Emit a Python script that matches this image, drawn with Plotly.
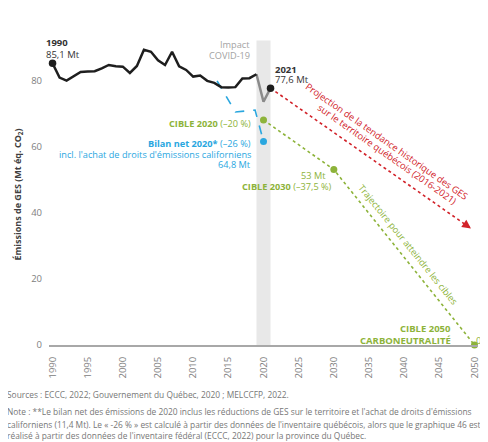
import plotly.graph_objects as go

# historique des émissions (Mt éq. CO2)
years = list(range(1990, 2020))
emissions = [85.1, 80.8, 79.9, 81.2, 82.5, 82.6, 82.7, 83.6, 84.6, 84.2,
             84.1, 82.2, 84.3, 89.2, 88.6, 86.0, 84.6, 88.6, 84.2, 83.1,
             81.1, 81.4, 79.8, 79.2, 77.9, 77.8, 77.9, 80.5, 80.6, 81.8]
covid_years = [2019, 2020, 2021]
covid_emissions = [81.8, 73.5, 77.6]

bilan_years = [2013.4, 2016.0, 2018.8, 2020.0]
bilan_values = [79.8, 70.4, 71.0, 61.5]

cible_years = [2020, 2030, 2050]
cible_values = [68.0, 53.0, 0.0]

proj_years = [2021, 2049.5]
proj_values = [77.6, 35.2]

BLACK = "#1e1e1e"
GREY = "#8a8a8a"
BLUE = "#2aa7df"
GREEN = "#8db33a"
RED = "#d2232a"
FONT = "Open Sans"

fig = go.Figure()

# bande covid
fig.add_shape(type="rect", x0=2019, x1=2021, y0=0, y1=92, xref="x", yref="y",
              fillcolor="#e8e8e8", line_width=0, layer="below")

fig.add_trace(go.Scatter(x=bilan_years, y=bilan_values, mode="lines",
                         line=dict(color=BLUE, width=1.6, dash="dash"), cliponaxis=False))
fig.add_trace(go.Scatter(x=[bilan_years[-1]], y=[bilan_values[-1]], mode="markers",
                         marker=dict(color=BLUE, size=7), cliponaxis=False))

fig.add_trace(go.Scatter(x=cible_years, y=cible_values, mode="lines",
                         line=dict(color=GREEN, width=1.6, dash="dot"), cliponaxis=False))
fig.add_trace(go.Scatter(x=cible_years, y=cible_values, mode="markers",
                         marker=dict(color=GREEN, size=7), cliponaxis=False))

fig.add_trace(go.Scatter(x=proj_years, y=proj_values, mode="lines",
                         line=dict(color=RED, width=1.6, dash="dot"), cliponaxis=False))

fig.add_trace(go.Scatter(x=covid_years, y=covid_emissions, mode="lines",
                         line=dict(color=GREY, width=2.5), cliponaxis=False))
fig.add_trace(go.Scatter(x=years, y=emissions, mode="lines",
                         line=dict(color=BLACK, width=2.5), cliponaxis=False))
fig.add_trace(go.Scatter(x=[years[0], covid_years[-1]], y=[emissions[0], covid_emissions[-1]],
                         mode="markers", marker=dict(color=BLACK, size=7.5), cliponaxis=False))

ann = []


def label(x, y, text, color, size=9.2, xanchor="left", angle=0, xref="x"):
    ann.append(dict(x=x, y=y, xref=xref, yref="y", text=text, showarrow=False,
                    font=dict(family=FONT, size=size, color=color),
                    xanchor=xanchor, yanchor="middle", align=xanchor if xanchor != "center" else "center",
                    textangle=angle))


label(-0.0105, 91.4, "<b>1990</b>", "#333333", size=9.5, xref="paper")
label(-0.0105, 87.9, "85,1 Mt", "#333333", size=9.5, xref="paper")
label(2018.3, 90.9, "Impact", "#a3a3a3", size=9.2, xanchor="right")
label(2018.3, 87.6, "COVID-19", "#a3a3a3", size=9.2, xanchor="right")
label(2021.3, 83.3, "<b>2021</b>", "#333333", size=9.5)
label(2021.3, 80.3, "77,6 Mt", "#333333", size=9.5)
label(2018.45, 67.0, "<b>CIBLE 2020</b> (–20 %)", GREEN, xanchor="right")
label(2018.45, 60.9, "<b>Bilan net 2020*</b> (–26 %)", BLUE, xanchor="right")
label(2018.45, 57.6, "incl. l'achat de droits d'émissions californiens", BLUE, xanchor="right")
label(2018.45, 54.6, "64,8 Mt", BLUE, xanchor="right")
label(2029.2, 51.1, "53 Mt", GREEN, xanchor="right")
label(2030.0, 48.0, "<b>CIBLE 2030</b> (–37,5 %)", GREEN, xanchor="right")
label(2046.9, 5.0, "<b>CIBLE 2050</b>", GREEN, size=9.5, xanchor="right")
label(2046.9, 1.5, "<b>CARBONEUTRALITÉ</b>", GREEN, size=9.5, xanchor="right")
label(2049.9, 1.5, "0 Mt", GREEN, size=9.5)
# textes en biais, décalés au-dessus des lignes pointillées
label(2037.55, 61.5, "Projection de la tendance historique des GES", RED, size=9.4,
      xanchor="center", angle=35)
label(2037.65, 57.7, "sur le territoire québécois (2016-2021)", RED, size=9.4,
      xanchor="center", angle=35)
label(2040.6, 30.5, "Trajectoire pour atteindre les cibles", GREEN, size=9.2,
      xanchor="center", angle=51)

# pointe de flèche rouge
ann.append(dict(x=proj_years[-1], y=proj_values[-1], xref="x", yref="y",
                ax=proj_years[-1] - 1.2, ay=proj_values[-1] + 1.8, axref="x", ayref="y",
                text="", showarrow=True, arrowhead=2, arrowsize=1.1, arrowwidth=1.6,
                arrowcolor=RED))

# titre de l'axe y
ann.append(dict(x=-0.071, y=0.453, xref="paper", yref="paper", showarrow=False,
                text="<b>Émissions de GES (Mt éq. CO<sub>2</sub>)</b>", textangle=-90,
                font=dict(family=FONT, size=9, color="#404040"),
                xanchor="center", yanchor="middle"))

# sources et note
notes = [
    (-0.151, "Sources : ECCC, 2022; Gouvernement du Québec, 2020 ; MELCCFP, 2022."),
    (-0.2024, "Note : **Le bilan net des émissions de 2020 inclus les réductions de GES sur le territoire et l'achat de droits d'émissions"),
    (-0.2387, "californiens (11,4 Mt). Le « -26 % » est calculé à partir des données de l'inventaire québécois, alors que le graphique 46 est"),
    (-0.2749, "réalisé à partir des données de l'inventaire fédéral (ECCC, 2022) pour la province du Québec."),
]
for ny, txt in notes:
    ann.append(dict(x=-0.103, y=ny, xref="paper", yref="paper", showarrow=False, text=txt,
                    font=dict(family=FONT, size=8.4, color="#777777"),
                    xanchor="left", yanchor="middle", align="left"))

# la page ajoute une marge de 8 px : la figure est réduite d'autant
fig.update_layout(
    width=480, height=434,
    margin=dict(l=40.5, r=9.5, t=6, b=97),
    paper_bgcolor="white", plot_bgcolor="white",
    showlegend=False,
    font=dict(family=FONT),
    annotations=ann,
    xaxis=dict(range=[1989.5, 2050.5], tickvals=list(range(1990, 2051, 5)),
               tickangle=-90, showgrid=False, zeroline=False, ticks="",
               showline=True, linecolor="#a8a8a8", linewidth=2,
               tickfont=dict(family=FONT, size=9.5, color="#808080"), ticklabelstandoff=6),
    yaxis=dict(range=[0, 100], tickvals=[0, 20, 40, 60, 80, 100],
               showgrid=False, zeroline=False, ticks="", showline=False,
               tickfont=dict(family=FONT, size=9.5, color="#808080"), ticklabelstandoff=6),
)

fig.write_html("out.html")
